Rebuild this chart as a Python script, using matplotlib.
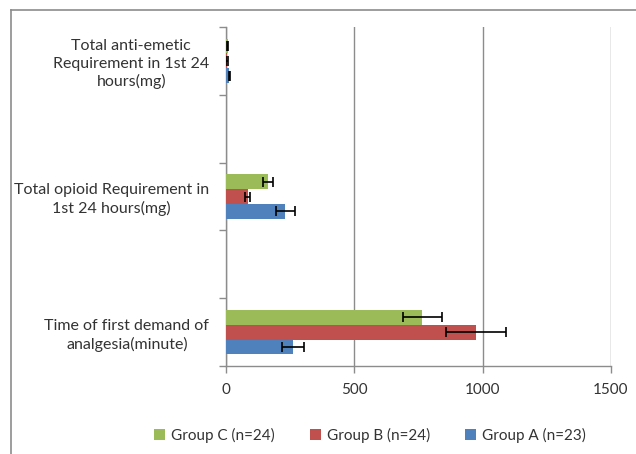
import matplotlib
matplotlib.use("Agg")
import matplotlib.pyplot as plt
from matplotlib.lines import Line2D
import numpy as np

categories = ["Time of first demand of\nanalgesia(minute)", "",
              "Total opioid Requirement in\n1st 24 hours(mg)", "",
              "Total anti-emetic\nRequirement in 1st 24\nhours(mg)"]
group_a = [261, 0, 230, 0, 13]
group_a_err = [41, 0, 37, 0, 3]
group_b = [974, 0, 85, 0, 4]
group_b_err = [117, 0, 10, 0, 3]
group_c = [764, 0, 164, 0, 6]
group_c_err = [76, 0, 18, 0, 3]
series_names = ["Group A (n=23)", "Group B (n=24)", "Group C (n=24)"]
colors = ["#4F81BD", "#C0504D", "#9BBB59"]

plt.rcParams['font.family'] = ['Lato', 'DejaVu Sans']

fig = plt.figure(figsize=(6.36, 4.54), dpi=100)
ax = fig.add_axes([226/636, 1-366/454, (611-226)/636, (366-27)/454])

y = np.arange(len(categories))
h = 0.22
vals = [group_a, group_b, group_c]
errs = [group_a_err, group_b_err, group_c_err]
offs = [-h, 0, h]
handles = []
for v, e, c, o, n in zip(vals, errs, colors, offs, series_names):
    idx = [i for i in range(len(v)) if categories[i]]
    b = ax.barh(y[idx] + o, [v[i] for i in idx], height=h, color=c,
                xerr=[e[i] for i in idx],
                error_kw=dict(ecolor='black', elinewidth=1.2, capsize=3.5, capthick=1.2),
                label=n, zorder=3)
    handles.append(b)

ax.set_xlim(0, 1500)
ax.set_ylim(-0.5, 4.5)
ax.set_xticks([0, 500, 1000, 1500])
ax.set_xticklabels(["0", "500", "1000", "1500"], fontsize=11, color='#333333')
ax.xaxis.grid(True, color='#8c8c8c', linewidth=1, zorder=0)
ax.set_yticks([0, 2, 4])
ax.set_yticklabels([categories[0], categories[2], categories[4]], fontsize=11.5,
                   color='#333333', multialignment='center', linespacing=1.3)
ax.tick_params(axis='y', length=0, pad=12)
ax.set_yticks(np.arange(-0.5, 5, 1), minor=True)
ax.tick_params(axis='y', which='minor', length=5, color='#8c8c8c', width=1)
ax.tick_params(axis='x', length=5, color='#8c8c8c', width=1, pad=7)

for s in ['top', 'right']:
    ax.spines[s].set_visible(False)
for s in ['left', 'bottom']:
    ax.spines[s].set_color('#8c8c8c')
    ax.spines[s].set_linewidth(1)

leg = fig.legend(handles=handles[::-1], labels=series_names[::-1], loc='center',
                 bbox_to_anchor=(0.582, 1-435/454), ncol=3, frameon=False,
                 fontsize=11, handlelength=0.7, handleheight=0.7,
                 columnspacing=2.3, handletextpad=0.4)
for t in leg.get_texts():
    t.set_color('#333333')

fig.add_artist(Line2D([11/636, 11/636], [0, 1-10/454], transform=fig.transFigure,
                      color='#8c8c8c', linewidth=1.2))
fig.add_artist(Line2D([11/636, 1], [1-10/454, 1-10/454], transform=fig.transFigure,
                      color='#8c8c8c', linewidth=1.2))

fig.savefig("out.png", dpi=100)
